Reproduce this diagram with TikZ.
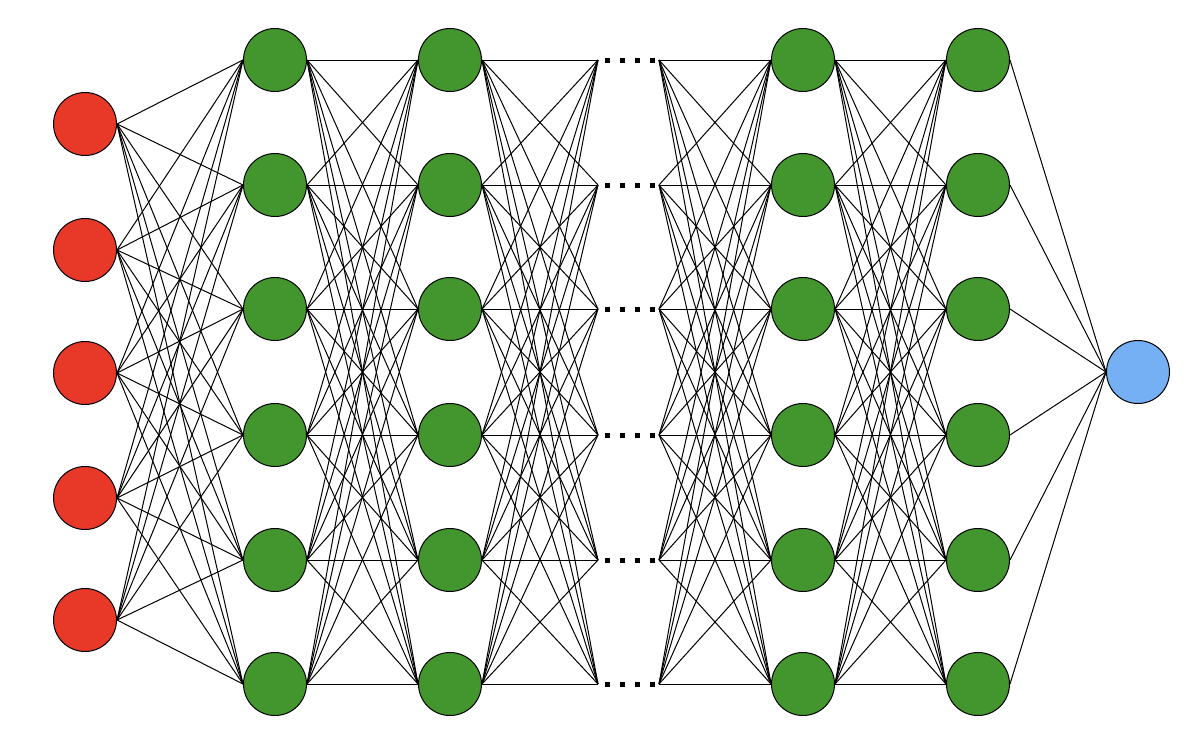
\documentclass[tikz,border=0pt]{standalone}
\begin{document}
\begin{tikzpicture}[x=1pt,y=-1pt,
  neuron/.style={circle,draw=black,line width=1pt,minimum size=63pt,inner sep=0pt},
  inp/.style={neuron,fill=inred},
  hid/.style={neuron,fill=hidgreen},
  outp/.style={neuron,fill=outblue},
  edge/.style={line width=1pt,black},
  sq/.style={fill=black,minimum size=5pt,inner sep=0pt}]
\definecolor{inred}{RGB}{232,56,40}
\definecolor{hidgreen}{RGB}{67,150,45}
\definecolor{outblue}{RGB}{117,176,245}
\useasboundingbox (0,0) rectangle (1200,739);
\foreach \i/\y in {1/124,2/250,3/373,4/498,5/620} \node[inp] (a\i) at (85,\y) {};
\foreach \i/\y in {1/60,2/185,3/309,4/435,5/560,6/684} {
  \node[hid] (b\i) at (275,\y) {};
  \node[hid] (c\i) at (450,\y) {};
  \node[hid] (d\i) at (803,\y) {};
  \node[hid] (e\i) at (978,\y) {};
  \coordinate (p\i) at (598,\y);
  \coordinate (q\i) at (659,\y);
  \foreach \k/\x in {1/607,2/622,3/637,4/652} \node[sq] (s\i\k) at (\x,\y) {};
}
\node[outp] (o) at (1138,372) {};
\foreach \i in {1,...,5} \foreach \j in {1,...,6} \draw[edge] (a\i.east) -- (b\j.west);
\foreach \i in {1,...,6} \foreach \j in {1,...,6} {
  \draw[edge] (b\i.east) -- (c\j.west);
  \draw[edge] (c\i.east) -- (p\j);
  \draw[edge] (q\i) -- (d\j.west);
  \draw[edge] (d\i.east) -- (e\j.west);
}
\foreach \i in {1,...,6} \draw[edge] (e\i.east) -- (o.west);
\end{tikzpicture}
\end{document}
